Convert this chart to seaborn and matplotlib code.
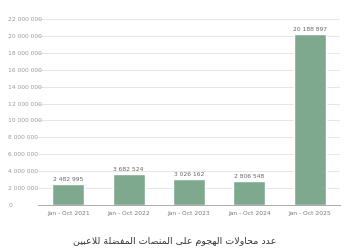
import matplotlib
matplotlib.use("Agg")
import matplotlib.pyplot as plt
import seaborn as sns
import pandas as pd

categories = ["Jan - Oct 2021", "Jan - Oct 2022", "Jan - Oct 2023", "Jan - Oct 2024", "Jan - Oct 2025"]
attempts = [2482995, 3682524, 3026162, 2806548, 20188897]
y_ticks = list(range(0, 22000001, 2000000))
title = "عدد محاولات الهجوم على المنصات المفضلة للاعبين"

# --- minimal Arabic contextual shaping (presentation forms) ---
FORMS = {
    'ا': ('\uFE8D', '\uFE8E', None, None),
    'ب': ('\uFE8F', '\uFE90', '\uFE91', '\uFE92'),
    'ة': ('\uFE93', '\uFE94', None, None),
    'ت': ('\uFE95', '\uFE96', '\uFE97', '\uFE98'),
    'ج': ('\uFE9D', '\uFE9E', '\uFE9F', '\uFEA0'),
    'ح': ('\uFEA1', '\uFEA2', '\uFEA3', '\uFEA4'),
    'د': ('\uFEA9', '\uFEAA', None, None),
    'ص': ('\uFEB9', '\uFEBA', '\uFEBB', '\uFEBC'),
    'ض': ('\uFEBD', '\uFEBE', '\uFEBF', '\uFEC0'),
    'ع': ('\uFEC9', '\uFECA', '\uFECB', '\uFECC'),
    'ف': ('\uFED1', '\uFED2', '\uFED3', '\uFED4'),
    'ل': ('\uFEDD', '\uFEDE', '\uFEDF', '\uFEE0'),
    'م': ('\uFEE1', '\uFEE2', '\uFEE3', '\uFEE4'),
    'ن': ('\uFEE5', '\uFEE6', '\uFEE7', '\uFEE8'),
    'ه': ('\uFEE9', '\uFEEA', '\uFEEB', '\uFEEC'),
    'و': ('\uFEED', '\uFEEE', None, None),
    'ى': ('\uFEEF', '\uFEF0', None, None),
    'ي': ('\uFEF1', '\uFEF2', '\uFEF3', '\uFEF4'),
    'LA': ('\uFEFB', '\uFEFC', None, None),
}


def shape(text):
    tokens = []
    i = 0
    while i < len(text):
        if text[i] == 'ل' and i + 1 < len(text) and text[i + 1] == 'ا':
            tokens.append('LA')
            i += 2
        else:
            tokens.append(text[i])
            i += 1
    out = []
    for k, t in enumerate(tokens):
        if t not in FORMS:
            out.append(t)
            continue
        prev = tokens[k - 1] if k > 0 else None
        nxt = tokens[k + 1] if k + 1 < len(tokens) else None
        jp = prev in FORMS and FORMS[prev][2] is not None
        jn = FORMS[t][2] is not None and nxt in FORMS
        iso, fin, ini, med = FORMS[t]
        out.append(med if (jp and jn) else fin if jp else ini if jn else iso)
    return ''.join(reversed(out))


def fmt(v):
    return f"{v:,}".replace(",", " ")


sns.set_style("white")
plt.rcParams['font.family'] = ['DejaVu Sans']

df = pd.DataFrame({"period": categories, "attempts": attempts})

fig = plt.figure(figsize=(3.5, 2.5), dpi=100)
ax = fig.add_axes([0.109, 0.18, 0.862, 0.744])

sns.barplot(data=df, x="period", y="attempts", color="#7fa98e", width=0.53,
            saturation=1, ax=ax, zorder=3)

ax.set_ylim(0, 22000000)
ax.set_xlim(-0.5, len(categories) - 0.5)
ax.set_yticks(y_ticks)
ax.set_yticklabels([fmt(v) for v in y_ticks])
for lab in ax.get_yticklabels():
    lab.set_horizontalalignment("left")
ax.tick_params(axis="y", length=0, pad=21.5, labelsize=4.3, labelcolor="#9a9a9a")
ax.grid(axis="y", color="#e6e6e6", linewidth=0.7, zorder=0)

ax.set_xticks(range(len(categories)))
ax.set_xticklabels(categories)
ax.set_xticks([i - 0.5 for i in range(len(categories) + 1)], minor=True)
ax.tick_params(axis="x", which="major", length=0, pad=4, labelsize=4.3, labelcolor="#777777")
ax.tick_params(axis="x", which="minor", length=8, width=0.6, color="#aaaaaa", direction="out")

ax.set_xlabel("")
ax.set_ylabel("")
for s in ["top", "right", "left"]:
    ax.spines[s].set_visible(False)
ax.spines["bottom"].set_color("#aaaaaa")
ax.spines["bottom"].set_linewidth(0.7)
ax.spines["bottom"].set_zorder(4)

for i, v in enumerate(attempts):
    ax.text(i, v + 250000, fmt(v), ha="center", va="bottom", fontsize=4.3, color="#666666", zorder=5)

fig.text(0.5, 0.035, shape(title), ha="center", va="center", fontsize=6.8, color="#333333")

fig.savefig("out.png", dpi=100)
